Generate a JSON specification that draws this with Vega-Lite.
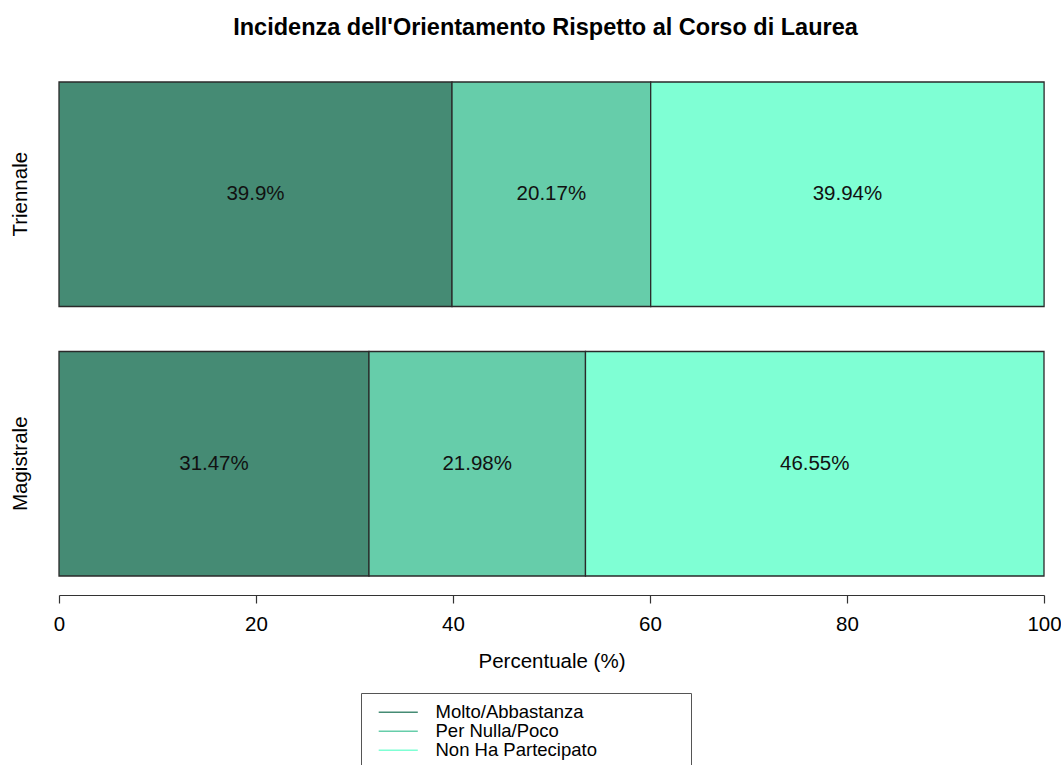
{
  "$schema": "https://vega.github.io/schema/vega-lite/v6.json",
  "width": 985,
  "height": 494,
  "autosize": {"type": "none"},
  "padding": {"left": 59, "top": 82, "right": 17, "bottom": 189},
  "background": "white",
  "config": {"view": {"stroke": null}, "font": "Liberation Sans"},
  "title": {
    "text": "Incidenza dell'Orientamento Rispetto al Corso di Laurea",
    "font": "Liberation Sans",
    "fontSize": 23.5,
    "fontWeight": "bold",
    "color": "#000000",
    "anchor": "middle",
    "baseline": "alphabetic",
    "offset": 23,
    "dx": -6
  },
  "data": {
    "values": [
      {"corso": "Triennale", "risposta": "Molto/Abbastanza", "pct": 39.9, "ordine": 1},
      {"corso": "Triennale", "risposta": "Per Nulla/Poco", "pct": 20.17, "ordine": 2},
      {"corso": "Triennale", "risposta": "Non Ha Partecipato", "pct": 39.94, "ordine": 3},
      {"corso": "Magistrale", "risposta": "Molto/Abbastanza", "pct": 31.47, "ordine": 1},
      {"corso": "Magistrale", "risposta": "Per Nulla/Poco", "pct": 21.98, "ordine": 2},
      {"corso": "Magistrale", "risposta": "Non Ha Partecipato", "pct": 46.55, "ordine": 3}
    ]
  },
  "transform": [
    {"stack": "pct", "groupby": ["corso"], "sort": [{"field": "ordine", "order": "ascending"}], "as": ["x0", "x1"]},
    {"calculate": "(datum.x0 + datum.x1) / 2", "as": "xm"},
    {"calculate": "datum.pct + '%'", "as": "etichetta"}
  ],
  "encoding": {
    "y": {
      "field": "corso",
      "type": "nominal",
      "scale": {"domain": ["Triennale", "Magistrale"], "paddingInner": 0.167, "paddingOuter": 0},
      "axis": {
        "title": null,
        "domain": false,
        "ticks": false,
        "labelAngle": -90,
        "labelAlign": "center",
        "labelBaseline": "alphabetic",
        "labelPadding": 33,
        "labelFont": "Liberation Sans",
        "labelFontSize": 20.5,
        "labelColor": "#000000"
      }
    }
  },
  "layer": [
    {
      "mark": {"type": "bar", "stroke": "#2a2a2a", "strokeWidth": 1.3},
      "encoding": {
        "x": {
          "field": "x0",
          "type": "quantitative",
          "scale": {"domain": [0, 100], "nice": false},
          "axis": {
            "title": "Percentuale (%)",
            "values": [0, 20, 40, 60, 80, 100],
            "grid": false,
            "offset": 19,
            "domainColor": "#333333",
            "domainWidth": 1.2,
            "tickColor": "#333333",
            "tickWidth": 1.2,
            "tickSize": 8,
            "labelPadding": 11,
            "labelFont": "Liberation Sans",
            "labelFontSize": 20.5,
            "labelColor": "#000000",
            "labelFlush": false,
            "titleFont": "Liberation Sans",
            "titleFontSize": 20.5,
            "titleFontWeight": "normal",
            "titleColor": "#000000",
            "titlePadding": 17
          }
        },
        "x2": {"field": "x1"},
        "color": {
          "field": "risposta",
          "type": "nominal",
          "scale": {
            "domain": ["Molto/Abbastanza", "Per Nulla/Poco", "Non Ha Partecipato"],
            "range": ["#458B74", "#66CDAA", "#7FFFD4"]
          },
          "legend": {
            "orient": "none",
            "legendX": 302,
            "legendY": 611,
            "title": "\u00a0",
            "titleOrient": "right",
            "titlePadding": 84,
            "titleFontSize": 18.5,
            "padding": 10,
            "strokeColor": "#555555",
            "fillColor": "white",
            "symbolType": "M-2.3,-0.09H2.3V0.09H-2.3Z",
            "symbolSize": 289,
            "symbolStrokeWidth": 0,
            "symbolOffset": 18,
            "labelOffset": 28,
            "labelLimit": 400,
            "labelFont": "Liberation Sans",
            "labelFontSize": 18.5,
            "labelColor": "#000000",
            "rowPadding": -1
          }
        }
      }
    },
    {
      "mark": {"type": "text", "font": "Liberation Sans", "fontSize": 20.5, "color": "#111111", "baseline": "middle", "align": "center"},
      "encoding": {
        "x": {"field": "xm", "type": "quantitative"},
        "text": {"field": "etichetta", "type": "nominal"}
      }
    }
  ]
}
